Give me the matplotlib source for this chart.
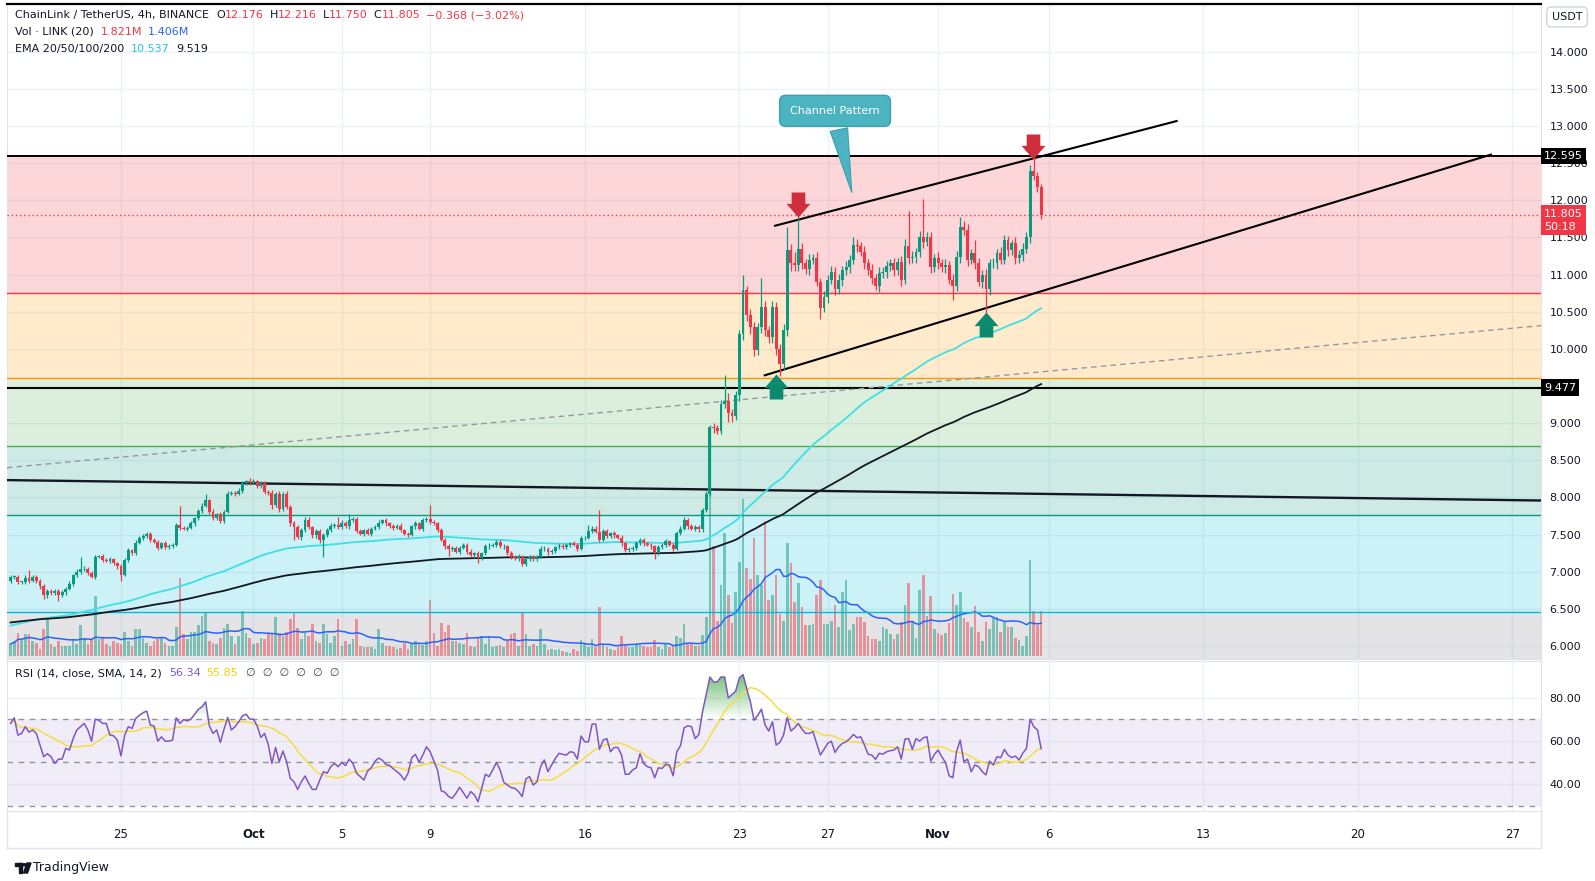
import numpy as np
import pandas as pd
import matplotlib
matplotlib.use('Agg')
import matplotlib.pyplot as plt
from matplotlib.path import Path
from matplotlib.colors import LinearSegmentedColormap
from matplotlib.lines import Line2D
from matplotlib.patches import Rectangle, Circle, Polygon

W, H = 1595, 881

# ---- data: LINK/USDT 4h, Binance ----
start = '2023-09-20 00:00'
first_open = 6.87
closes = [
    6.93, 6.93, 6.86, 6.86, 6.92, 6.88, 6.93, 6.88, 6.81, 6.68,
    6.74, 6.71, 6.74, 6.68, 6.72, 6.77, 6.84, 6.95, 7.00, 7.03,
    7.04, 6.98, 6.93, 7.20, 7.21, 7.16, 7.15, 7.17, 7.11, 7.07,
    6.96, 7.16, 7.29, 7.25, 7.39, 7.46, 7.48, 7.51, 7.43, 7.40,
    7.32, 7.38, 7.33, 7.35, 7.36, 7.63, 7.59, 7.58, 7.59, 7.65,
    7.72, 7.82, 7.89, 7.96, 7.81, 7.72, 7.77, 7.68, 7.81, 8.05,
    8.06, 8.05, 8.09, 8.19, 8.22, 8.20, 8.22, 8.15, 8.19, 8.07,
    8.06, 7.90, 8.04, 7.85, 8.04, 7.87, 7.66, 7.60, 7.47, 7.56,
    7.70, 7.60, 7.49, 7.55, 7.42, 7.50, 7.56, 7.62, 7.63, 7.60,
    7.66, 7.61, 7.69, 7.71, 7.55, 7.51, 7.56, 7.51, 7.58, 7.60,
    7.66, 7.69, 7.65, 7.61, 7.59, 7.62, 7.56, 7.51, 7.50, 7.61,
    7.65, 7.58, 7.69, 7.71, 7.67, 7.65, 7.56, 7.43, 7.34, 7.31,
    7.32, 7.27, 7.32, 7.36, 7.27, 7.22, 7.25, 7.19, 7.25, 7.34,
    7.35, 7.36, 7.40, 7.34, 7.34, 7.25, 7.20, 7.18, 7.21, 7.10,
    7.17, 7.20, 7.17, 7.21, 7.30, 7.31, 7.26, 7.28, 7.33, 7.35,
    7.33, 7.36, 7.38, 7.36, 7.31, 7.45, 7.46, 7.55, 7.58, 7.54,
    7.43, 7.55, 7.48, 7.52, 7.49, 7.46, 7.38, 7.29, 7.30, 7.32,
    7.38, 7.43, 7.38, 7.36, 7.34, 7.25, 7.33, 7.36, 7.41, 7.36,
    7.31, 7.52, 7.58, 7.69, 7.61, 7.58, 7.60, 7.57, 7.83, 8.05,
    8.95, 8.93, 8.90, 9.26, 9.30, 9.13, 9.10, 9.38, 10.20, 10.79,
    10.46, 10.30, 9.98, 10.30, 10.57, 10.25, 10.16, 10.57, 10.00, 9.80,
    10.25, 11.33, 11.15, 11.13, 11.35, 11.15, 11.07, 11.20, 11.22, 10.90,
    10.55, 10.70, 10.93, 11.04, 10.80, 10.93, 11.06, 11.10, 11.20, 11.40,
    11.38, 11.31, 11.15, 11.06, 10.95, 10.85, 11.02, 11.04, 11.11, 11.15,
    11.06, 11.17, 10.93, 11.38, 11.22, 11.24, 11.30, 11.51, 11.44, 11.50,
    11.10, 11.22, 11.15, 11.10, 11.13, 10.93, 10.84, 11.24, 11.64, 11.60,
    11.20, 11.29, 11.15, 10.90, 11.00, 10.80, 11.15, 11.15, 11.29, 11.20,
    11.46, 11.33, 11.42, 11.22, 11.27, 11.35, 11.51, 12.40, 12.33, 12.176,
    11.805]
# wick lengths beyond the body, in cents
up_wick = '''3 2 3 2 3 10 2 3 2 3  2 3 2 2 3 2 3 2 3 17  3 2 3 2 2 3 2 3 2 2
3 2 3 2 3 2 3 2 3 2  3 2 3 2 3 2 26 3 2 3  2 3 3 9 2 3 2 3 2 3
3 2 3 3 2 4 3 2 3 3  3 4 3 5 3 4 3 2 3 3  3 3 2 3 3 2 3 3 2 11
3 2 9 3 2 3 2 3 2 3  3 2 3 2 3 2 3 2 3 2  3 2 3 3 19 3 2 3 2 3
2 3 2 3 2 3 2 3 2 3  3 2 3 2 3 2 3 2 3 2  3 2 3 2 5 3 2 3 2 3
2 3 2 3 2 3 2 8 3 3  29 3 3 2 3 2 3 2 3 2  3 2 3 2 3 2 3 2 3 2
3 3 3 4 3 3 3 3 3 3  3 5 5 5 35 10 6 5 6 21  6 8 6 5 38 8 6 8 6 6
8 31 8 15 45 8 6 8 6 8  6 8 6 8 6 8 6 8 6 10  8 6 8 6 8 6 8 6 8 6
8 6 8 10 48 8 6 8 51 8  8 6 8 6 8 6 8 8 14 8  8 6 18 8 6 8 6 8 6 8
8 6 4 8 6 8 6 8 19.5 5  4'''
dn_wick = '''2 3 2 3 2 3 2 3 4 5  3 2 3 8 2 3 2 3 2 3  2 3 2 3 2 3 2 3 2 3
8 2 3 2 3 2 3 2 3 2  3 2 3 2 3 2 3 2 3 2  3 2 3 2 3 2 3 2 3 2
2 3 2 3 2 3 2 3 2 3  3 5 3 4 3 3 4 17 3 4  3 3 4 3 3 22 3 2 3 2
3 2 3 2 3 2 3 2 3 2  3 2 3 2 3 2 3 2 3 2  3 2 3 2 3 2 3 2 3 10
3 2 3 2 3 2 3 8 3 2  3 2 3 2 3 2 3 2 3 3  3 2 3 2 3 2 3 2 3 2
3 2 3 2 3 2 3 2 3 2  3 2 3 2 3 2 3 2 3 2  3 2 3 2 3 8 3 2 3 2
3 2 3 2 3 2 3 3 3 3  3 6 5 5 6 12 8 6 8 8  8 10 8 6 8 8 8 8 8 17
8 8 10 8 8 8 6 8 6 6  15 6 8 6 8 6 8 6 8 6  8 6 8 6 8 6 8 6 8 6
8 6 8 6 8 6 8 6 8 6  8 6 8 6 8 6 18 6 8 6  8 6 8 6 8 32 8 6 8 6
6 8 6 8 6 8 6 8 6 6  5.5'''
# volume in millions of LINK
volume = [
    0.5, 0.6, 0.95, 0.7, 0.9, 0.9, 0.6, 0.55, 0.3, 1.1,
    1.5, 0.5, 0.35, 0.6, 0.4, 0.4, 0.4, 0.7, 0.5, 1.25,
    0.75, 0.5, 0.7, 2.45, 0.7, 0.75, 0.5, 0.4, 0.6, 0.55,
    0.5, 1.0, 0.6, 0.4, 1.1, 1.1, 0.75, 0.55, 0.4, 0.6,
    0.7, 0.75, 0.55, 0.4, 0.4, 1.2, 3.2, 0.9, 0.7, 1.0,
    1.0, 1.25, 1.65, 1.8, 0.6, 0.55, 0.5, 0.75, 1.15, 1.3,
    0.8, 0.5, 0.8, 1.85, 0.95, 0.75, 0.5, 0.55, 0.75, 0.7,
    0.95, 0.95, 1.6, 0.95, 0.8, 1.0, 1.5, 1.8, 1.15, 0.7,
    0.95, 0.8, 1.3, 0.6, 0.55, 1.3, 0.9, 0.55, 0.8, 1.5,
    0.4, 0.6, 0.5, 0.7, 1.5, 0.4, 0.35, 0.35, 0.35, 0.3,
    1.1, 0.55, 0.4, 0.4, 0.35, 0.3, 0.33, 0.55, 0.3, 0.5,
    0.6, 0.55, 0.45, 0.6, 2.3, 0.95, 0.4, 1.35, 1.0, 1.25,
    0.6, 0.6, 0.55, 0.5, 0.95, 0.4, 0.35, 0.75, 0.8, 0.5,
    0.8, 0.35, 0.4, 0.45, 0.35, 0.6, 0.9, 0.95, 0.4, 1.8,
    0.9, 0.4, 0.5, 0.4, 1.1, 0.5, 0.25, 0.27, 0.25, 0.3,
    0.22, 0.18, 0.12, 0.3, 0.22, 0.65, 0.5, 0.38, 0.7, 0.38,
    2.0, 0.45, 0.38, 0.3, 0.25, 0.38, 0.8, 0.45, 0.38, 0.38,
    0.5, 0.45, 0.4, 0.38, 0.38, 0.65, 0.38, 0.3, 0.5, 0.38,
    0.45, 0.8, 0.72, 1.3, 0.5, 0.5, 0.4, 0.4, 0.85, 1.6,
    7.0, 4.5, 1.45, 2.9, 5.0, 2.5, 1.35, 2.6, 3.85, 6.4,
    3.6, 3.15, 4.8, 3.3, 2.9, 5.5, 2.3, 2.5, 3.3, 1.7,
    1.45, 4.6, 3.8, 2.2, 3.0, 2.0, 1.25, 1.25, 1.3, 2.5,
    3.1, 1.3, 1.3, 1.45, 2.1, 1.2, 2.6, 3.1, 1.05, 1.3,
    1.6, 1.6, 1.4, 0.8, 0.7, 0.7, 0.6, 1.2, 1.1, 0.9,
    0.7, 0.9, 1.4, 2.1, 3.0, 1.45, 0.75, 2.7, 3.3, 1.65,
    2.45, 1.1, 0.95, 0.85, 0.95, 1.35, 2.55, 2.1, 2.6, 1.55,
    1.4, 1.2, 2.05, 1.0, 0.6, 1.4, 1.1, 1.55, 1.6, 1.0,
    1.4, 1.2, 1.2, 0.75, 0.65, 0.4, 0.8, 3.9, 1.85, 1.25,
    1.821]
rsi = [
    68, 70.6, 62.6, 63.4, 66.5, 64, 65, 63.4, 58, 52.6,
    54, 52.6, 49.5, 51.5, 51.5, 56.5, 55.7, 61, 65, 66.5,
    68, 65, 59.8, 70, 69.5, 68, 68, 62.6, 62.3, 60.3,
    53, 62.6, 66.5, 65.7, 70.3, 71.8, 73, 73.7, 67.2, 66.8,
    59.8, 61.8, 59.8, 59.8, 60.3, 70.6, 68, 69.8, 69.2, 70,
    72.2, 74.5, 75.7, 78, 66.9, 63.4, 65, 59.2, 65.4, 70.8,
    65, 66.5, 68.8, 71.5, 72.3, 70, 70, 66.8, 61.5, 63.4,
    58.3, 49.5, 56.9, 50.3, 55.2, 50.3, 42.6, 41, 37.5, 41,
    43.7, 40.3, 37.5, 37.5, 41.8, 45.7, 45, 48, 49.5, 48,
    50, 48.5, 51.5, 49.5, 45, 43.4, 41.8, 46, 47.5, 50.5,
    52, 51, 49, 48.5, 47, 45.7, 44.2, 41.8, 45, 52.2,
    53.7, 50, 53.4, 57.2, 54.9, 50.6, 46.5, 36.8, 36.2, 34.2,
    33.4, 35.7, 38.5, 36, 33.4, 36.5, 35, 31.8, 38, 44.5,
    43.4, 46.5, 50, 46.5, 40.8, 39.5, 38.3, 38, 36.5, 34.2,
    42.3, 43.4, 39.5, 41, 48, 51.1, 45.7, 48.8, 51.8, 54.2,
    53.7, 53.4, 54.9, 54.6, 51.5, 62.2, 59.5, 59.5, 67.7, 67.7,
    56, 60.3, 61, 54.9, 56.9, 56.9, 53.4, 44.5, 44.5, 46.5,
    47.5, 54, 49.5, 48, 47.5, 42.9, 47.5, 47.2, 49.1, 48.8,
    43.8, 54.9, 57.7, 66, 66.9, 66.5, 61, 62.9, 73.4, 81.4,
    89.5, 87.2, 87.2, 89.5, 89.5, 79.8, 81.4, 82.9, 89.1, 90.6,
    84.2, 78, 69.5, 71.8, 74.6, 67.2, 64.5, 68.8, 58, 59.2,
    62.6, 70.8, 64.5, 66, 68, 65.4, 63.4, 63.4, 64.2, 58.8,
    53.4, 56, 58.8, 59.8, 54.6, 57.2, 58.8, 59.5, 61, 62.9,
    61.4, 61.8, 58, 53.7, 53.4, 51.4, 54.2, 53.8, 54.9, 55.4,
    55.7, 57.2, 51.5, 60.8, 61, 56, 61, 59.8, 61.4, 61.8,
    50.6, 53.7, 55.7, 52.6, 50, 43.8, 42.9, 54.9, 60.3, 50.3,
    51.5, 45.7, 48.8, 48, 45.7, 44.2, 50.6, 48.8, 52.6, 52.2,
    56, 53.4, 52.2, 52.9, 51.1, 54.2, 56.5, 70, 66.5, 65,
    56.34]
ema100_seed = 6.26
ema200_seed = 6.31

tick_dates = ['2023-09-25', '2023-10-01', '2023-10-05', '2023-10-09', '2023-10-16',
              '2023-10-23', '2023-10-27', '2023-11-01', '2023-11-06', '2023-11-13',
              '2023-11-20', '2023-11-27']
tick_labels = ['25', 'Oct', '5', '9', '16', '23', '27', 'Nov', '6', '13', '20', '27']
price_ticks = [6.0, 6.5, 7.0, 7.5, 8.0, 8.5, 9.0, 10.0, 10.5, 11.0, 11.5, 12.0, 12.5, 13.0, 13.5, 14.0]

# drawings (bar index, price)
fib_top, fib_bottom = 12.595, 4.78
fib_levels = [0, 0.236, 0.382, 0.5, 0.618, 0.786, 1]
fib_colors = ['#131722', '#f23645', '#ff9800', '#4caf50', '#089981', '#00bcd4', '#787b86']
hline_price = 9.477
trend_flat = [(-1, 8.233), (416, 7.958)]
trend_dash = [(-1, 8.40), (416, 10.315)]
channel_top = [(207.7, 11.658), (316.8, 13.068)]
channel_bottom = [(204.9, 9.644), (402.2, 12.616)]
down_arrows = [(213.8, 11.78), (277.9, 12.56)]
up_arrows = [(207.9, 9.657), (264.9, 10.49)]
callout_tip = (228.7, 12.07)
callout_box = (224, 13.205)

# ---- derived ----
closes = np.array(closes)
n = len(closes)
x = np.arange(n)
opens = np.r_[first_open, closes[:-1]]
up = np.array(up_wick.split(), dtype=float) / 100
dn = np.array(dn_wick.split(), dtype=float) / 100
highs = np.maximum(opens, closes) + up
lows = np.minimum(opens, closes) - dn
rsi = np.array(rsi)
volume = np.array(volume)


def ema(vals, span, seed):
    a = 2 / (span + 1)
    out, e = [], seed
    for v in vals:
        e = e + a * (v - e)
        out.append(e)
    return np.array(out)


ema100 = ema(closes, 100, ema100_seed)
ema200 = ema(closes, 200, ema200_seed)
vol_ma = pd.Series(volume).rolling(20, min_periods=1).mean()
rsi_ma = pd.Series(rsi).rolling(14, min_periods=1).mean()
t0 = pd.Timestamp(start)
tick_pos = [(pd.Timestamp(d) - t0) / pd.Timedelta(hours=4) for d in tick_dates]

GREEN, RED, DARK = '#089981', '#f23645', '#131722'
bull = closes >= opens
ccol = np.where(bull, GREEN, RED)

fig = plt.figure(figsize=(W / 100, H / 100), dpi=100)
fig.patch.set_facecolor('white')


def box(x0, y0, x1, y1):
    return [x0 / W, 1 - y1 / H, (x1 - x0) / W, (y1 - y0) / H]


pbox = box(7, 4, 1541, 659)
ax = fig.add_axes(pbox, zorder=1)
axv = fig.add_axes(pbox, zorder=2, sharex=ax)
axc = fig.add_axes(pbox, zorder=3, sharex=ax)
axr = fig.add_axes(box(7, 661, 1541, 811), zorder=1, sharex=ax)
for a in (axv, axc):
    a.set_axis_off()
    a.patch.set_visible(False)

XL = (-0.97, 415.8)
YL = (5.824, 14.644)
ax.set_xlim(*XL)
ax.set_ylim(*YL)
axc.set_ylim(*YL)
axv.set_ylim(-0.12, 26.6)

# grid + fib bands
ax.set_axisbelow(True)
ax.set_xticks(tick_pos)
ax.set_yticks(price_ticks)
ax.set_yticklabels([f'{v:.3f}' for v in price_ticks])
ax.grid(True, color='#eef1f7', lw=1)
ax.yaxis.tick_right()
ax.tick_params(axis='y', length=0, pad=6, labelsize=8, labelcolor=DARK)
ax.tick_params(axis='x', length=0, labelbottom=False)
for s in ('left', 'right', 'bottom'):
    ax.spines[s].set_color('#e0e3eb')
ax.spines['top'].set_color('black')
ax.spines['top'].set_linewidth(1.6)

fib_prices = [fib_top - l * (fib_top - fib_bottom) for l in fib_levels]
for k in range(1, len(fib_prices)):
    ax.axhspan(fib_prices[k], fib_prices[k - 1], color=fib_colors[k], alpha=0.2, lw=0)
for k in range(1, len(fib_prices) - 1):
    axc.axhline(fib_prices[k], color=fib_colors[k], lw=1, zorder=2)
axc.axhline(fib_prices[0], color='black', lw=1.4, zorder=2)
axc.axhline(hline_price, color='black', lw=1.5, zorder=2)
axc.axhline(closes[-1], color=RED, lw=1, ls=(0, (1, 2)), zorder=2)

# volume
vcol = np.where(bull, GREEN, RED)
axv.bar(x, volume, width=0.72, color=vcol, alpha=0.48, lw=0)
axv.plot(x, vol_ma, color='#2962ff', lw=1.1)

# trend lines
for pts, kw in [(trend_flat, dict(color='#131722', lw=1.7)),
                (trend_dash, dict(color='#9598a1', lw=1, ls=(0, (4, 3)))),
                (channel_top, dict(color='black', lw=1.5)),
                (channel_bottom, dict(color='black', lw=1.5))]:
    axc.plot([p[0] for p in pts], [p[1] for p in pts], zorder=3, **kw)

# EMAs
axc.plot(x, ema100, color='#3ee0e6', lw=1.3, zorder=4)
axc.plot(x, ema200, color=DARK, lw=1.3, zorder=4)

# candles
axc.vlines(x, lows, highs, colors=ccol, lw=0.9, zorder=5)
axc.bar(x, np.maximum(np.abs(closes - opens), 0.008), bottom=np.minimum(opens, closes),
        width=0.78, color=ccol, lw=0, zorder=6)

# arrows (tip at anchor)
down_path = Path([(-6, 22), (6, 22), (6, 12), (10.5, 12), (0, 0), (-10.5, 12), (-6, 12), (-6, 22)],
                 closed=True)
up_path = Path([(-6, -22), (6, -22), (6, -12), (10.5, -12), (0, 0), (-10.5, -12), (-6, -12), (-6, -22)],
               closed=True)
ams = 50 * 0.72
for ix, p in down_arrows:
    axc.plot(ix, p, marker=down_path, ms=ams, color='#cf2f3c', mec='none', zorder=8)
for ix, p in up_arrows:
    axc.plot(ix, p, marker=up_path, ms=ams, color='#0b8a6f', mec='none', zorder=8)

# callout
axc.annotate('Channel Pattern', xy=callout_tip, xytext=callout_box, ha='center', va='center',
             fontsize=8, color='white', zorder=9,
             bbox=dict(boxstyle='round,pad=0.95,rounding_size=0.55', fc='#4bb4c0', ec='#3aa0ad', lw=1),
             arrowprops=dict(arrowstyle='wedge,tail_width=1.6,shrink_factor=0.5',
                             fc='#4bb4c0', ec='#3aa0ad', lw=0.8))


# right price tags
def price_tag(price, text, fc, dy=0, va='center'):
    axc.annotate(text, xy=(1, price), xycoords=('axes fraction', 'data'), xytext=(3, dy),
                 textcoords='offset pixels', ha='left', va=va, fontsize=8, color='white',
                 linespacing=1.35, annotation_clip=False, zorder=20,
                 bbox=dict(boxstyle='square,pad=0.3', fc=fc, ec='none'))


price_tag(fib_top, f'{fib_top:.3f}', 'black')
price_tag(hline_price, f'{hline_price:.3f}', 'black')
price_tag(closes[-1], f'{closes[-1]:.3f}\n50:18', RED, dy=6, va='top')
fig.text(1567 / W, 1 - 17 / H, 'USDT', ha='center', va='center', fontsize=8, color=DARK,
         bbox=dict(boxstyle='round,pad=0.45,rounding_size=0.4', fc='white', ec='#d1d4dc'))

# RSI panel
axr.set_axisbelow(True)
axr.set_yticks([40, 60, 80])
axr.set_yticklabels(['40.00', '60.00', '80.00'])
axr.yaxis.tick_right()
axr.grid(True, color='#eef1f7', lw=1)
axr.tick_params(axis='y', length=0, pad=6, labelsize=8, labelcolor=DARK)
axr.set_xticks(tick_pos)
axr.set_xticklabels(tick_labels)
axr.tick_params(axis='x', length=0, pad=12, labelsize=8.5, labelcolor=DARK)
for lab in axr.get_xticklabels():
    if lab.get_text() in ('Oct', 'Nov'):
        lab.set_fontweight('bold')
for s in axr.spines.values():
    s.set_color('#e0e3eb')
axr.axhspan(30, 70, color='#7e57c2', alpha=0.1, lw=0)
for v in (70, 50, 30):
    axr.axhline(v, color='#787b86', lw=1, ls=(0, (4, 4)), alpha=0.8)
fill = axr.fill_between(x, rsi, 70, where=rsi > 70, interpolate=True, facecolor='none', edgecolor='none')
paths = fill.get_paths()
if paths:
    clip = Path.make_compound_path(*paths)
    cmap = LinearSegmentedColormap.from_list('g', [(0.3, 0.69, 0.31, 0.0), (0.3, 0.69, 0.31, 0.8)])
    img = axr.imshow(np.linspace(0, 1, 256).reshape(-1, 1), extent=[XL[0], XL[1], 70, 91],
                     origin='lower', aspect='auto', cmap=cmap, zorder=2)
    img.set_clip_path(clip, transform=axr.transData)
axr.plot(x, rsi_ma, color='#f5dd3c', lw=1.1, zorder=3)
axr.plot(x, rsi, color='#7e57c2', lw=1.1, zorder=4)
axr.set_xlim(*XL)
axr.set_ylim(27.5, 96.9)

# time axis border
fig.add_artist(Line2D([7 / W, 1541 / W], [1 - 848 / H] * 2, color='#e0e3eb', lw=1))
fig.add_artist(Line2D([7 / W, 7 / W], [1 - 811 / H, 1 - 848 / H], color='#e0e3eb', lw=1))
fig.add_artist(Line2D([1541 / W, 1541 / W], [1 - 811 / H, 1 - 848 / H], color='#e0e3eb', lw=1))

# legends
renderer = fig.canvas.get_renderer()


def legend_line(x0, y0, parts, size=8):
    for text, color, gap in parts:
        t = fig.text(x0 / W, 1 - y0 / H, text, color=color, fontsize=size, ha='left', va='center')
        x0 += t.get_window_extent(renderer).width + gap


legend_line(15, 15, [('ChainLink / TetherUS, 4h, BINANCE', DARK, 7), ('O', DARK, 0), ('12.176', RED, 6),
                     ('H', DARK, 0), ('12.216', RED, 6), ('L', DARK, 0), ('11.750', RED, 6),
                     ('C', DARK, 0), ('11.805', RED, 6), ('\u22120.368 (\u22123.02%)', RED, 0)])
legend_line(15, 32, [('Vol \u00b7 LINK (20)', DARK, 7), ('1.821M', RED, 6), ('1.406M', '#2962ff', 0)])
legend_line(15, 49, [('EMA 20/50/100/200', DARK, 7), ('10.537', '#22c8d8', 6), ('9.519', DARK, 0)])
legend_line(15, 673, [('RSI (14, close, SMA, 14, 2)', DARK, 7), ('56.34', '#7e57c2', 6),
                      ('55.85', '#f2d20a', 8), ('\u2205  \u2205  \u2205  \u2205  \u2205  \u2205', '#434651', 0)])

# TradingView mark
fx = lambda px: px / W
fy = lambda py: 1 - py / H
fig.add_artist(Rectangle((fx(15), fy(866)), 7 / W, 3 / H, transform=fig.transFigure, color=DARK))
fig.add_artist(Rectangle((fx(18.5), fy(873)), 3.5 / W, 10 / H, transform=fig.transFigure, color=DARK))
fig.add_artist(Circle((fx(24.5), fy(864.8)), 1.9 / W, transform=fig.transFigure, color=DARK))
fig.add_artist(Polygon([(fx(27), fy(863)), (fx(31), fy(863)), (fx(27.5), fy(873)), (fx(23.5), fy(873))],
                       closed=True, transform=fig.transFigure, color=DARK))
fig.text(33 / W, 1 - 868 / H, 'TradingView', fontsize=9, color=DARK, ha='left', va='center')

fig.savefig('out.png', dpi=100)
